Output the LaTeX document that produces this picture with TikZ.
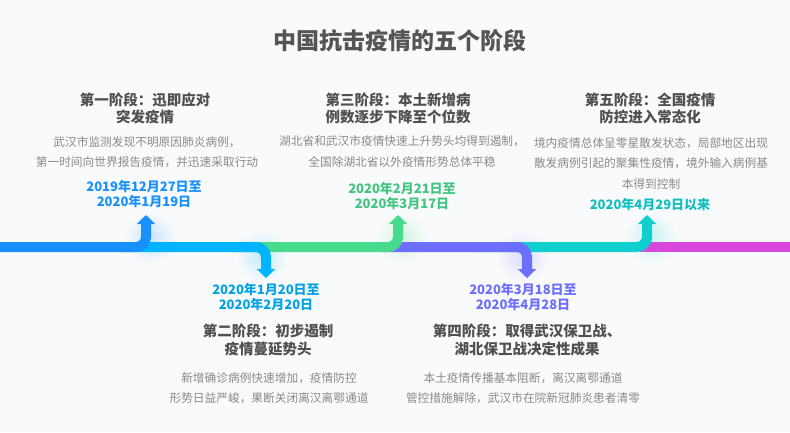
\documentclass[tikz,border=0pt]{standalone}
\usepackage{fontspec}
\setmainfont{Noto Sans CJK SC}
\usetikzlibrary{arrows.meta}

\definecolor{bg}{HTML}{F9FAFB}
\definecolor{headgray}{HTML}{555555}
\definecolor{titlegray}{HTML}{505050}
\definecolor{descgray}{HTML}{8A8A8A}
\definecolor{cblue}{HTML}{1890FF}
\definecolor{ccyan}{HTML}{00B4FF}
\definecolor{cgreen}{HTML}{48DB8E}
\definecolor{cpurple}{HTML}{6C6EFF}
\definecolor{cteal}{HTML}{10CFCF}
\definecolor{cmagenta}{HTML}{D946DC}

\begin{document}
\begin{tikzpicture}[x=1pt,y=-1pt,
  stagetitle/.style={align=center,inner sep=0pt,text=titlegray,
    font=\bfseries\fontsize{14.5}{17.5}\selectfont},
  stagedesc/.style={align=center,inner sep=0pt,text=descgray,
    font=\fontsize{11.7}{20.5}\selectfont},
  stagedate/.style={align=center,inner sep=0pt,
    font=\bfseries\fontsize{13}{15}\selectfont},
  seg/.style={line width=10pt,rounded corners=10pt,
    -{Triangle[width=18pt,length=9pt]}}]
  \fill[bg] (0,0) rectangle (790,432);
  \useasboundingbox (0,0) rectangle (790,432);

  \node[inner sep=0pt,text=headgray,font=\bfseries\fontsize{23}{26}\selectfont]
    (head) at (400,41) {中国抗击疫情的五个阶段};

  % soft glow round the bends
  \shade[inner color=cblue!22!bg,outer color=bg] (150,238) circle (26);
  \shade[inner color=ccyan!22!bg,outer color=bg] (262,256) circle (26);
  \shade[inner color=cgreen!22!bg,outer color=bg] (402,238) circle (26);
  \shade[inner color=cpurple!22!bg,outer color=bg] (523,256) circle (26);
  \shade[inner color=cteal!22!bg,outer color=bg] (651,238) circle (26);

  % time line, drawn from right to left so that earlier parts lie on top
  \coordinate (m0) at (640,247);
  \coordinate (m1) at (790,247);
  \coordinate (e0) at (476,247);
  \coordinate (e1) at (647,247);
  \coordinate (e2) at (647,215);
  \coordinate (d0) at (380,247);
  \coordinate (d1) at (527,247);
  \coordinate (d2) at (527,278);
  \coordinate (c0) at (232,247);
  \coordinate (c1) at (398,247);
  \coordinate (c2) at (398,215);
  \coordinate (b0) at (119,247);
  \coordinate (b1) at (266,247);
  \coordinate (b2) at (266,278);
  \coordinate (a0) at (0,247);
  \coordinate (a1) at (146,247);
  \coordinate (a2) at (146,215);
  \draw[line width=10pt,cmagenta] (m0) -- (m1);
  \draw[seg,cteal] (e0) -- (e1) -- (e2);
  \draw[seg,cpurple] (d0) -- (d1) -- (d2);
  \draw[seg,cgreen] (c0) -- (c1) -- (c2);
  \draw[seg,ccyan] (b0) -- (b1) -- (b2);
  \draw[seg,cblue] (a0) -- (a1) -- (a2);

  % stage 1
  \node[stagetitle] (T1) at (145,108.5) {第一阶段：迅即应对\\突发疫情};
  \node[stagedesc] (D1) at (147,152) {武汉市监测发现不明原因肺炎病例，\\第一时间向世界报告疫情，并迅速采取行动};
  \node[stagedate,text=cblue] (S1) at (144,194.5) {2019年12月27日至\\2020年1月19日};
  % stage 2
  \node[stagedate,text=ccyan!90!black] (S2) at (266,297.5) {2020年1月20日至\\2020年2月20日};
  \node[stagetitle] (T2) at (268,340) {第二阶段：初步遏制\\疫情蔓延势头};
  \node[stagedesc] (D2) at (269,388) {新增确诊病例快速增加，疫情防控\\形势日益严峻，果断关闭离汉离鄂通道};
  % stage 3
  \node[stagetitle] (T3) at (398,108.5) {第三阶段：本土新增病\\例数逐步下降至个位数};
  \node[stagedesc] (D3) at (402,151.5) {湖北省和武汉市疫情快速上升势头均得到遏制，\\全国除湖北省以外疫情形势总体平稳};
  \node[stagedate,text=cgreen!90!black] (S3) at (402,196) {2020年2月21日至\\2020年3月17日};
  % stage 4
  \node[stagedate,text=cpurple] (S4) at (523,297.5) {2020年3月18日至\\2020年4月28日};
  \node[stagetitle] (T4) at (527,340) {第四阶段：取得武汉保卫战、\\湖北保卫战决定性成果};
  \node[stagedesc] (D4) at (523,388) {本土疫情传播基本阻断，离汉离鄂通道\\管控措施解除，武汉市在院新冠肺炎患者清零};
  % stage 5
  \node[stagetitle] (T5) at (650,108.5) {第五阶段：全国疫情\\防控进入常态化};
  \node[stagedesc] (D5) at (651,163.5) {境内疫情总体呈零星散发状态，局部地区出现\\散发病例引起的聚集性疫情，境外输入病例基\\本得到控制};
  \node[stagedate,text=cteal!92!black] (S5) at (650,205) {2020年4月29日以来};
\end{tikzpicture}
\end{document}
